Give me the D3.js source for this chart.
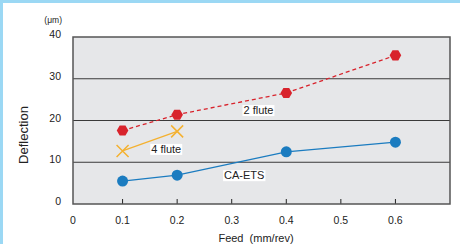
<!DOCTYPE html>
<html>
<head>
<meta charset="utf-8">
<script src="https://cdn.jsdelivr.net/npm/d3@7"></script>
<style>
  body { margin: 0; background: #fff; }
  text { font-family: "Liberation Sans", Arial, sans-serif; fill: #222; }
</style>
</head>
<body>
<div class="chart"></div>
<script>
// data
var feed = [0.1, 0.2, 0.4, 0.6];
var twoFlute = [17.6, 21.4, 26.6, 35.6];
var fourFluteFeed = [0.1, 0.2];
var fourFlute = [12.7, 17.4];
var caEts = [5.5, 6.9, 12.5, 14.8];
var xTicks = [0, 0.1, 0.2, 0.3, 0.4, 0.5, 0.6];
var yTicks = [0, 10, 20, 30, 40];

var W = 460, H = 244;
var plot = {left: 73, top: 37, right: 450, bottom: 204};

var x = d3.scaleLinear().domain([0, 0.7]).range([68, plot.right]);
var y = d3.scaleLinear().domain([0, 40]).range([plot.bottom, plot.top]);

var svg = d3.select(".chart").append("svg")
    .attr("width", W)
    .attr("height", H);

// light blue frame on top and left
svg.append("rect").attr("x", 0).attr("y", 0).attr("width", W).attr("height", 3).attr("fill", "#9bd8f4");
svg.append("rect").attr("x", 0).attr("y", 0).attr("width", 3).attr("height", H).attr("fill", "#9bd8f4");

// plot background
svg.append("rect")
    .attr("x", plot.left).attr("y", plot.top)
    .attr("width", plot.right - plot.left).attr("height", plot.bottom - plot.top)
    .attr("fill", "#e6e7e9");

// horizontal gridlines
svg.selectAll(".grid").data(yTicks.filter(function(d){ return d > 0 && d < 40; }))
  .enter().append("line")
    .attr("x1", plot.left).attr("x2", plot.right)
    .attr("y1", function(d){ return y(d); }).attr("y2", function(d){ return y(d); })
    .attr("stroke", "#3a3a3a").attr("stroke-width", 1);

// x ticks inside the plot
svg.selectAll(".xtick").data(xTicks.filter(function(d){ return d > 0; }))
  .enter().append("line")
    .attr("x1", function(d){ return x(d); }).attr("x2", function(d){ return x(d); })
    .attr("y1", plot.bottom).attr("y2", plot.bottom - 5)
    .attr("stroke", "#222").attr("stroke-width", 1);

// frame
svg.append("rect")
    .attr("x", plot.left).attr("y", plot.top)
    .attr("width", plot.right - plot.left).attr("height", plot.bottom - plot.top)
    .attr("fill", "none").attr("stroke", "#555").attr("stroke-width", 1.5);

// tick labels
svg.selectAll(".xlab").data(xTicks).enter().append("text")
    .attr("x", function(d){ return d === 0 ? plot.left : x(d); })
    .attr("y", 224)
    .attr("text-anchor", "middle")
    .attr("font-size", 10.5)
    .text(function(d){ return d; });

svg.selectAll(".ylab").data(yTicks).enter().append("text")
    .attr("x", 61)
    .attr("y", function(d){ return y(d) + 1; })
    .attr("text-anchor", "end")
    .attr("font-size", 10.5)
    .text(function(d){ return d; });

svg.append("text")
    .attr("x", 62).attr("y", 23)
    .attr("text-anchor", "end")
    .attr("font-size", 8.5)
    .text("(\u03bcm)");

svg.append("text")
    .attr("transform", "translate(28,135) rotate(-90)")
    .attr("text-anchor", "middle")
    .attr("font-size", 13)
    .text("Deflection");

svg.append("text")
    .attr("x", 256).attr("y", 241.5)
    .attr("text-anchor", "middle")
    .attr("font-size", 11)
    .style("white-space", "pre")
    .text("Feed  (mm/rev)");

var line = d3.line()
    .x(function(d){ return x(d[0]); })
    .y(function(d){ return y(d[1]); });

// CA-ETS
var blue = "#1b7cc0";
var caPts = d3.zip(feed, caEts);
svg.append("path").attr("d", line(caPts))
    .attr("fill", "none").attr("stroke", blue).attr("stroke-width", 1.3);
svg.selectAll(".ca").data(caPts).enter().append("circle")
    .attr("cx", function(d){ return x(d[0]); })
    .attr("cy", function(d){ return y(d[1]); })
    .attr("r", 5.5).attr("fill", blue);

// 4 flute
var orange = "#f4b130";
var fourPts = d3.zip(fourFluteFeed, fourFlute);
svg.append("path").attr("d", line(fourPts))
    .attr("fill", "none").attr("stroke", orange).attr("stroke-width", 1.3);
svg.selectAll(".four").data(fourPts).enter().append("path")
    .attr("transform", function(d){ return "translate(" + x(d[0]) + "," + y(d[1]) + ")"; })
    .attr("d", "M-6,-6L6,6M6,-6L-6,6")
    .attr("stroke", orange).attr("stroke-width", 1.5).attr("fill", "none");

// 2 flute
var red = "#d8232c";
var twoPts = d3.zip(feed, twoFlute);
svg.append("path").attr("d", line(twoPts))
    .attr("fill", "none").attr("stroke", red).attr("stroke-width", 1.3)
    .attr("stroke-dasharray", "4,3");
var hex = d3.range(6).map(function(i){
    var a = Math.PI / 3 * i;
    return [5.8 * Math.cos(a), 5.8 * Math.sin(a)];
});
svg.selectAll(".two").data(twoPts).enter().append("path")
    .attr("transform", function(d){ return "translate(" + x(d[0]) + "," + y(d[1]) + ")"; })
    .attr("d", "M" + hex.join("L") + "Z")
    .attr("fill", red);

// series labels with white boxes
var labels = [
    {text: "2 flute", fx: 0.349, v: 22.5},
    {text: "4 flute", fx: 0.18, v: 13.2},
    {text: "CA-ETS", fx: 0.323, v: 6.9}
];
labels.forEach(function(l){
    var t = svg.append("text")
        .attr("x", x(l.fx)).attr("y", y(l.v) + 4)
        .attr("text-anchor", "middle")
        .attr("font-size", 11)
        .text(l.text);
    var b = t.node().getBBox();
    svg.insert("rect", function(){ return t.node(); })
        .attr("x", b.x - 1).attr("y", b.y + 1)
        .attr("width", b.width + 2).attr("height", b.height - 1)
        .attr("fill", "#fff");
});
</script>
</body>
</html>
